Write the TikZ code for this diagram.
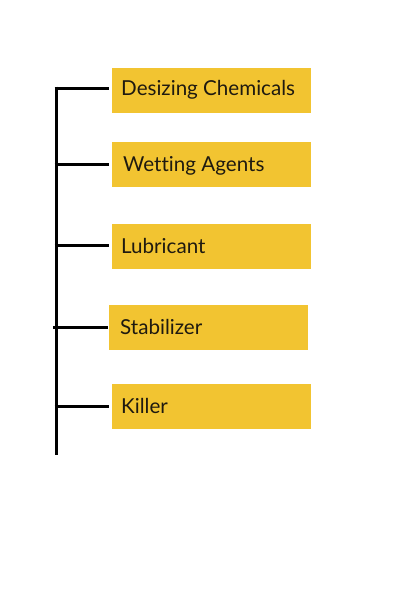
\documentclass[tikz,border=0pt]{standalone}
\usepackage{fontspec}
\setmainfont{Lato}[Ligatures={NoCommon}]
\definecolor{boxyellow}{HTML}{F2C431}
\definecolor{txtdark}{HTML}{1F1A10}
\begin{document}
\begin{tikzpicture}[x=1pt,y=-1pt,
  itembox/.style={fill=boxyellow,draw=none,minimum width=199pt,minimum height=45pt,inner sep=0pt,outer sep=0pt},
  itemtext/.style={anchor=base west,inner sep=0pt,text=txtdark,font=\fontsize{20.6}{24}\selectfont},
  trunk/.style={line width=3pt,black},
  branch/.style={line width=3pt,black,shorten >=3pt}]
\useasboundingbox (0,0) rectangle (400,600);
\node[itembox] (b1) at (211.5,90.5) {};
\node[itembox] (b2) at (211.5,164.5) {};
\node[itembox] (b3) at (211.5,246.3) {};
\node[itembox] (b4) at (208.5,327.5) {};
\node[itembox] (b5) at (211.5,406.5) {};
\node[itemtext] (t1) at (121,95.5) {Desizing Chemicals};
\node[itemtext] (t2) at (123,171) {Wetting Agents};
\node[itemtext] (t3) at (121,253) {Lubricant};
\node[itemtext] (t4) at (120,334) {Stabilizer};
\node[itemtext] (t5) at (121,413.5) {Killer};
\coordinate (top) at (56,86.5);
\coordinate (bot) at (56,455);
\coordinate (j1) at (54.5,88);
\coordinate (j2) at (54.5,164.5);
\coordinate (j3) at (54.5,245.7);
\coordinate (j4) at (53,327);
\coordinate (j5) at (54.5,406);
\draw[trunk] (top) -- (bot);
\draw[branch] (j1) -- (b1.west |- j1);
\draw[branch] (j2) -- (b2.west |- j2);
\draw[branch] (j3) -- (b3.west |- j3);
\draw[branch,shorten >=1pt] (j4) -- (b4.west |- j4);
\draw[branch] (j5) -- (b5.west |- j5);
\end{tikzpicture}
\end{document}
